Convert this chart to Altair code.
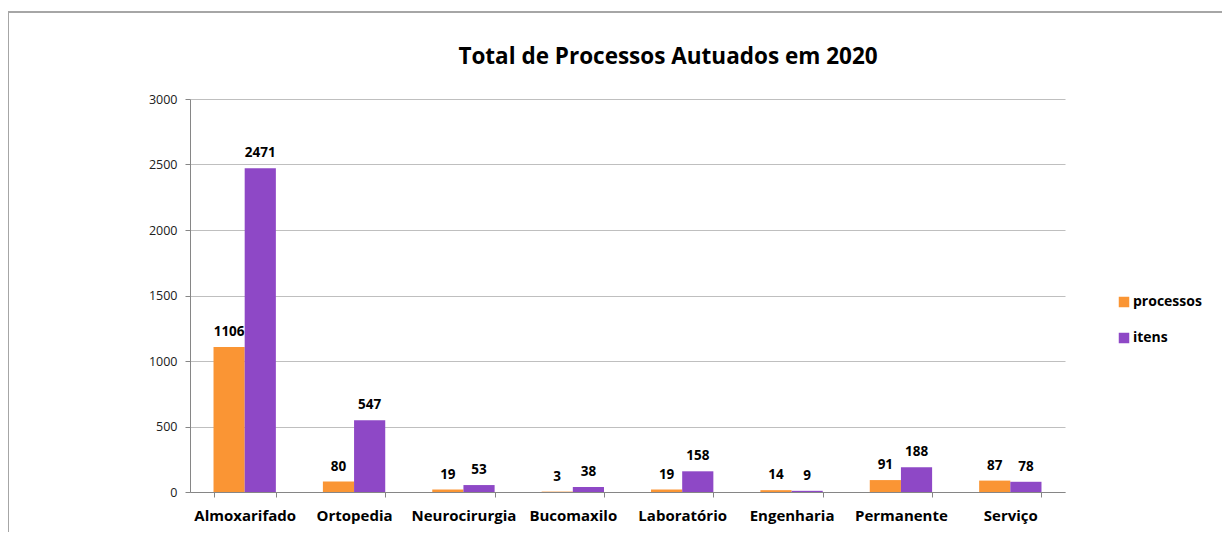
import altair as alt
import pandas as pd

categories = ["Almoxarifado", "Ortopedia", "Neurocirurgia", "Bucomaxilo",
              "Laboratório", "Engenharia", "Permanente", "Serviço"]
processos = [1106, 80, 19, 3, 19, 14, 91, 87]
itens = [2471, 547, 53, 38, 158, 9, 188, 78]
series = ["processos", "itens"]
colors = ["#FA9534", "#8E48C6"]
y_ticks = [0, 500, 1000, 1500, 2000, 2500, 3000]
title_text = "Total de Processos Autuados em 2020"

rows = []
for i, c in enumerate(categories):
    rows.append({"cat": c, "serie": "processos", "valor": processos[i]})
    rows.append({"cat": c, "serie": "itens", "valor": itens[i]})
df = pd.DataFrame(rows)

FONT = "Open Sans"
W, H = 875, 393

x_enc = alt.X("cat:N", sort=categories, title=None,
              scale=alt.Scale(paddingInner=0.43, paddingOuter=0.215),
              axis=alt.Axis(labelAngle=0, labelFont=FONT, labelFontSize=15,
                            labelFontWeight="bold", labelColor="#000000",
                            labelPadding=11, tickBand="extent", tickSize=5,
                            tickColor="#868686", domainColor="#868686",
                            grid=False))
y_enc = alt.Y("valor:Q", title=None,
              scale=alt.Scale(domain=[0, 3000], nice=False),
              axis=alt.Axis(values=y_ticks, format="d", labelFont=FONT,
                            labelFontSize=12.5, labelColor="#202020", tickSize=5,
                            labelPadding=8, tickColor="#868686",
                            domainColor="#868686", gridColor="#BFBFBF",
                            labelFlush=False))
off = alt.XOffset("serie:N", sort=series)

bars = alt.Chart(df).mark_bar().encode(
    x=x_enc, y=y_enc, xOffset=off,
    color=alt.Color("serie:N", sort=series,
                    scale=alt.Scale(domain=series, range=colors),
                    legend=alt.Legend(title=None, orient="none", legendX=927,
                                      legendY=196, symbolType="square",
                                      symbolSize=110, symbolStrokeWidth=0,
                                      labelFont=FONT, labelFontSize=14,
                                      labelFontWeight="bold",
                                      labelColor="#000000", rowPadding=22,
                                      labelOffset=2)),
)

labels = alt.Chart(df).mark_text(dy=-8, font=FONT, fontSize=13.5,
                                 fontWeight="bold", color="#000000",
                                 baseline="bottom").encode(
    x=alt.X("cat:N", sort=categories), y="valor:Q", xOffset=off,
    text="valor:Q",
)

title = alt.Chart(pd.DataFrame({"t": [title_text]})).mark_text(
    font=FONT, fontSize=22.5, fontWeight="bold", color="#000000",
    align="center", baseline="middle").encode(
    text="t:N", x=alt.value(478), y=alt.value(-42))

frame_left = alt.Chart(df).mark_rule(color="#A6A6A6", strokeWidth=1.5).encode(
    x=alt.value(-182), y=alt.value(-87), y2=alt.value(H + 60))
frame_top = alt.Chart(df).mark_rule(color="#A6A6A6", strokeWidth=1.5).encode(
    x=alt.value(-182), x2=alt.value(W + 160), y=alt.value(-87))

chart = alt.layer(bars, labels, title, frame_left, frame_top).properties(
    width=W, height=H,
    autosize=alt.AutoSizeParams(type="none"),
    padding={"left": 182, "top": 91, "right": 157, "bottom": 40},
).configure_view(stroke=None)

chart.save("out.html", embed_options={"renderer": "svg", "actions": False})
